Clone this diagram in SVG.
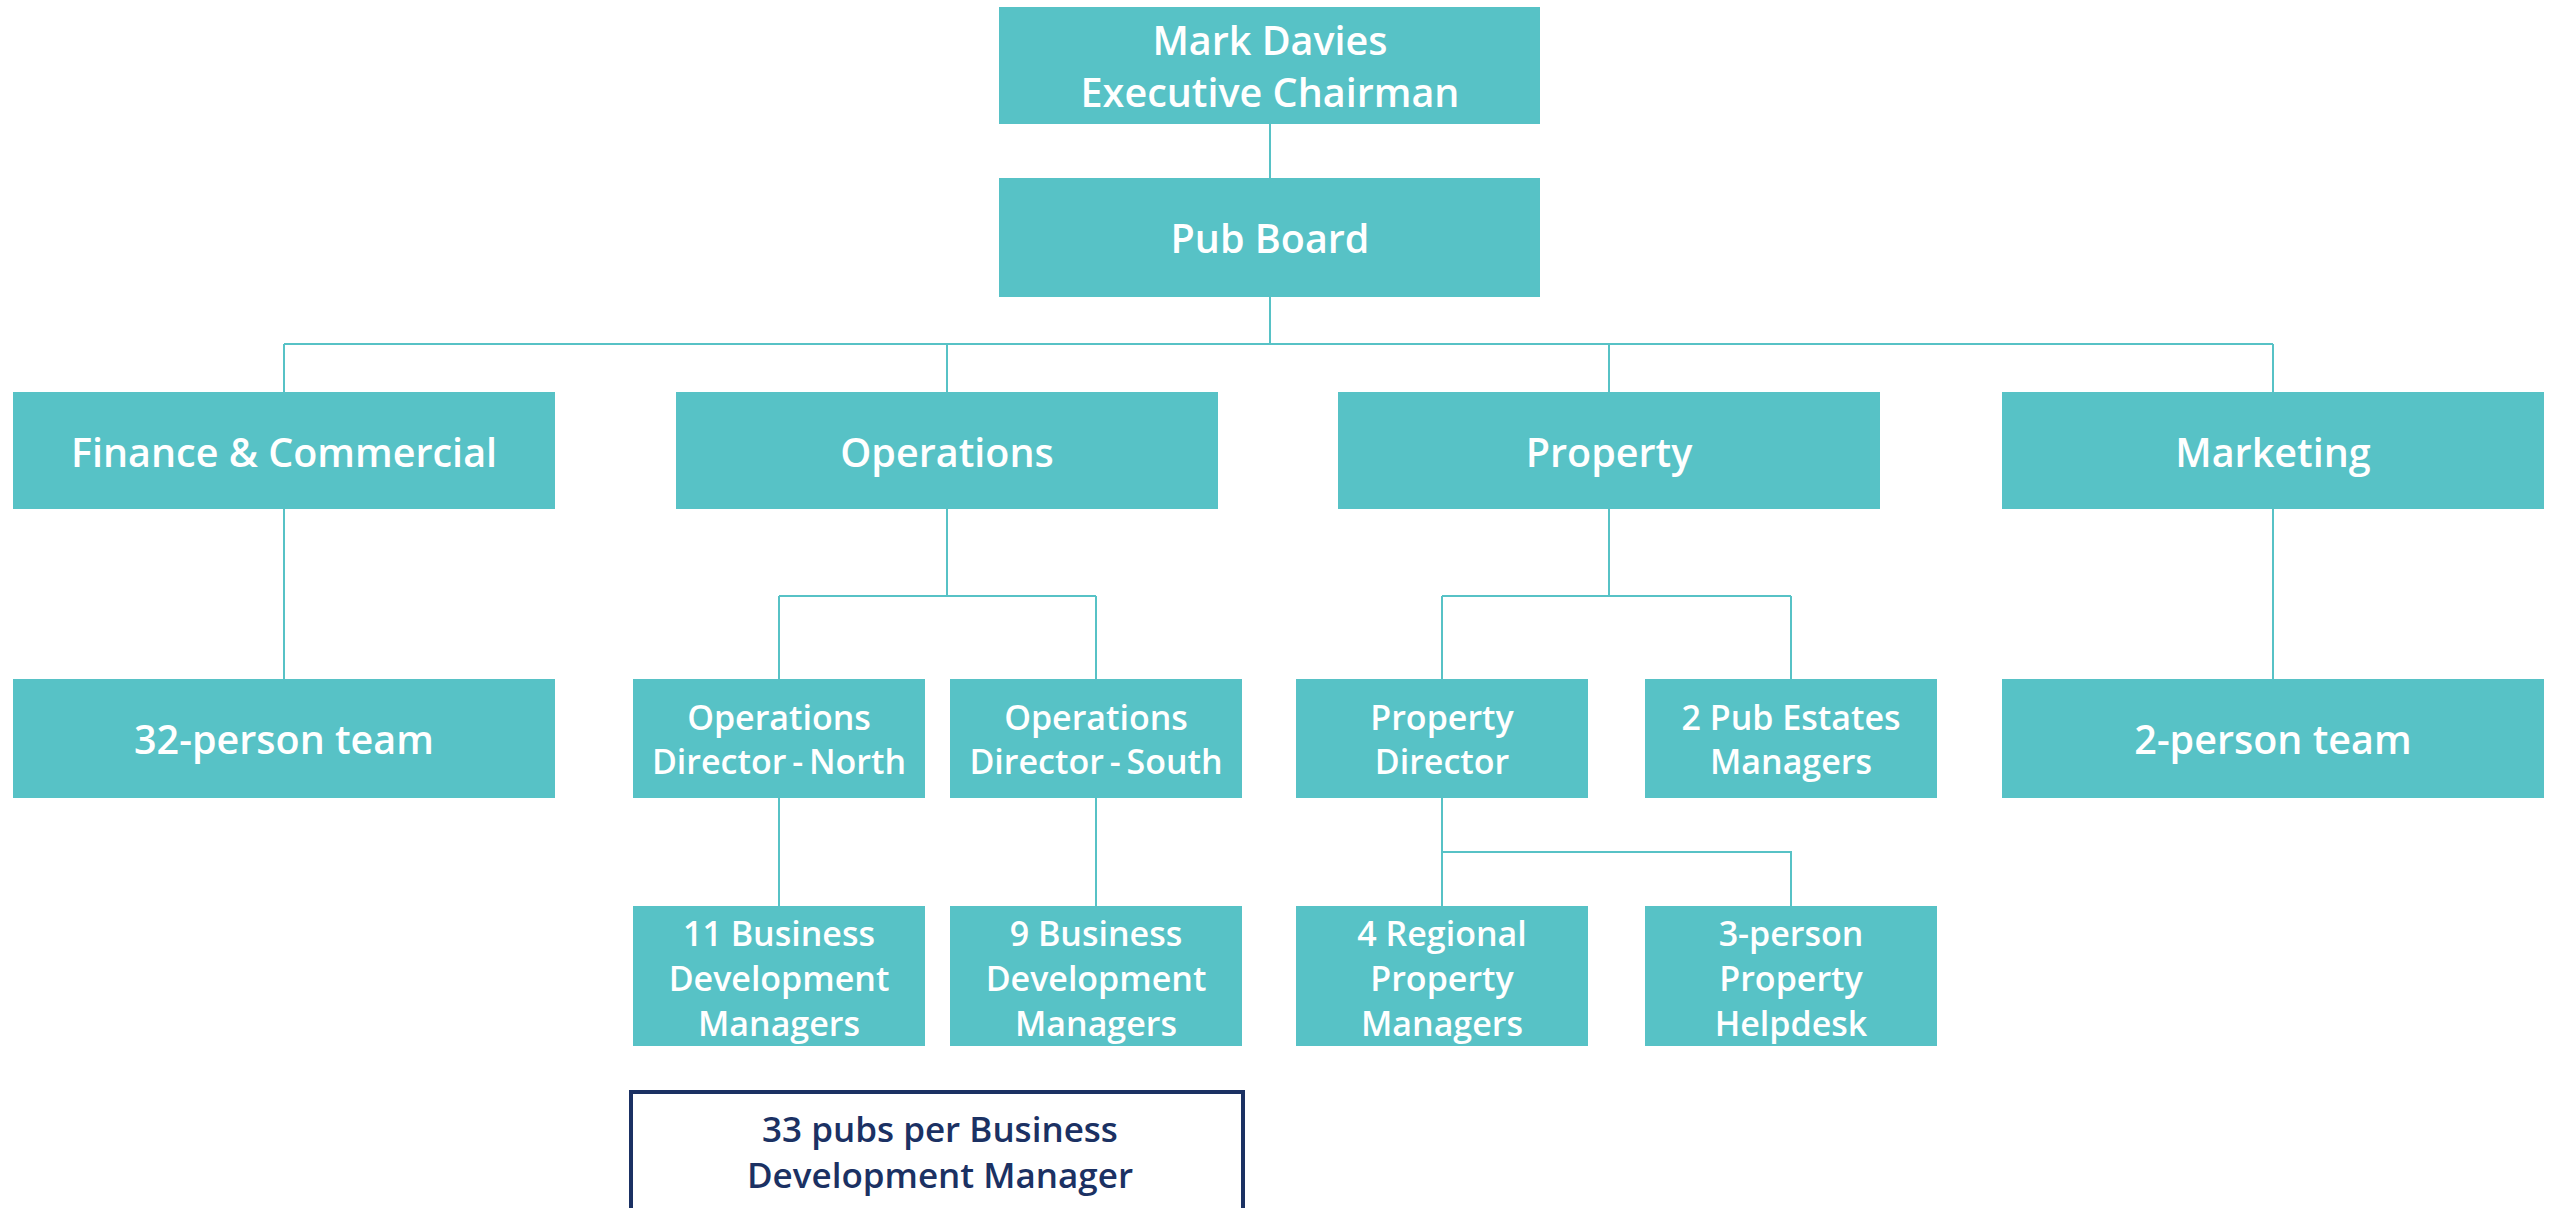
<svg xmlns="http://www.w3.org/2000/svg" width="2559" height="1208" viewBox="0 0 2559 1208">
<style>
.box{fill:#57c2c6}
.t{font-family:"Open Sans",Lato,sans-serif;font-weight:600;fill:#ffffff;text-anchor:middle}
.l{font-size:39.5px}
.s{font-size:34px}
.c{fill:none;stroke:#57c2c6;stroke-width:2}
.note{fill:#ffffff;stroke:#1b3163;stroke-width:4}
.nt{font-family:"Open Sans",Lato,sans-serif;font-weight:600;fill:#1b3163;text-anchor:middle;font-size:35px}
</style>
<rect width="2559" height="1208" fill="#ffffff"/>
<g id="connectors">
<path class="c" d="M1270 124V178M1270 297V344M284 344H2273M284 344V392M947 344V392M1609 344V392M2273 344V392"/>
<path class="c" d="M284 509V679M2273 509V679"/>
<path class="c" d="M947 509V596M779 596H1096M779 596V679M1096 596V679"/>
<path class="c" d="M1609 509V596M1442 596H1791M1442 596V679M1791 596V679"/>
<path class="c" d="M779 798V906M1096 798V906"/>
<path class="c" d="M1442 798V906M1442 852H1791V906"/>
</g>
<g id="chairman"><rect class="box" x="999" y="7" width="541" height="117"/>
<text class="t l" x="1270" y="55">Mark Davies</text><text class="t l" x="1270" y="107">Executive Chairman</text></g>
<g id="pubboard"><rect class="box" x="999" y="178" width="541" height="119"/>
<text class="t l" x="1270" y="253">Pub Board</text></g>
<g id="finance"><rect class="box" x="13" y="392" width="542" height="117"/>
<text class="t l" x="284" y="467">Finance &amp; Commercial</text></g>
<g id="operations"><rect class="box" x="676" y="392" width="542" height="117"/>
<text class="t l" x="947" y="467">Operations</text></g>
<g id="property"><rect class="box" x="1338" y="392" width="542" height="117"/>
<text class="t l" x="1609" y="467">Property</text></g>
<g id="marketing"><rect class="box" x="2002" y="392" width="542" height="117"/>
<text class="t l" x="2273" y="467">Marketing</text></g>
<g id="team32"><rect class="box" x="13" y="679" width="542" height="119"/>
<text class="t l" x="284" y="754">32-person team</text></g>
<g id="opsnorth"><rect class="box" x="633" y="679" width="292" height="119"/>
<text class="t s" x="779" y="730">Operations</text><text class="t s" x="779" y="774" word-spacing="-3">Director - North</text></g>
<g id="opssouth"><rect class="box" x="950" y="679" width="292" height="119"/>
<text class="t s" x="1096" y="730">Operations</text><text class="t s" x="1096" y="774" word-spacing="-3">Director - South</text></g>
<g id="propdirector"><rect class="box" x="1296" y="679" width="292" height="119"/>
<text class="t s" x="1442" y="730">Property</text><text class="t s" x="1442" y="774">Director</text></g>
<g id="pubestates"><rect class="box" x="1645" y="679" width="292" height="119"/>
<text class="t s" x="1791" y="730">2 Pub Estates</text><text class="t s" x="1791" y="774">Managers</text></g>
<g id="team2"><rect class="box" x="2002" y="679" width="542" height="119"/>
<text class="t l" x="2273" y="754">2-person team</text></g>
<g id="bdm11"><rect class="box" x="633" y="906" width="292" height="140"/>
<text class="t s" x="779" y="946">11 Business</text><text class="t s" x="779" y="991">Development</text><text class="t s" x="779" y="1036">Managers</text></g>
<g id="bdm9"><rect class="box" x="950" y="906" width="292" height="140"/>
<text class="t s" x="1096" y="946">9 Business</text><text class="t s" x="1096" y="991">Development</text><text class="t s" x="1096" y="1036">Managers</text></g>
<g id="regional"><rect class="box" x="1296" y="906" width="292" height="140"/>
<text class="t s" x="1442" y="946">4 Regional</text><text class="t s" x="1442" y="991">Property</text><text class="t s" x="1442" y="1036">Managers</text></g>
<g id="helpdesk"><rect class="box" x="1645" y="906" width="292" height="140"/>
<text class="t s" x="1791" y="946">3-person</text><text class="t s" x="1791" y="991">Property</text><text class="t s" x="1791" y="1036">Helpdesk</text></g>
<g id="note"><rect class="note" x="631" y="1092" width="612" height="150"/>
<text class="nt" x="940" y="1142">33 pubs per Business</text><text class="nt" x="940" y="1188">Development Manager</text></g>
</svg>
